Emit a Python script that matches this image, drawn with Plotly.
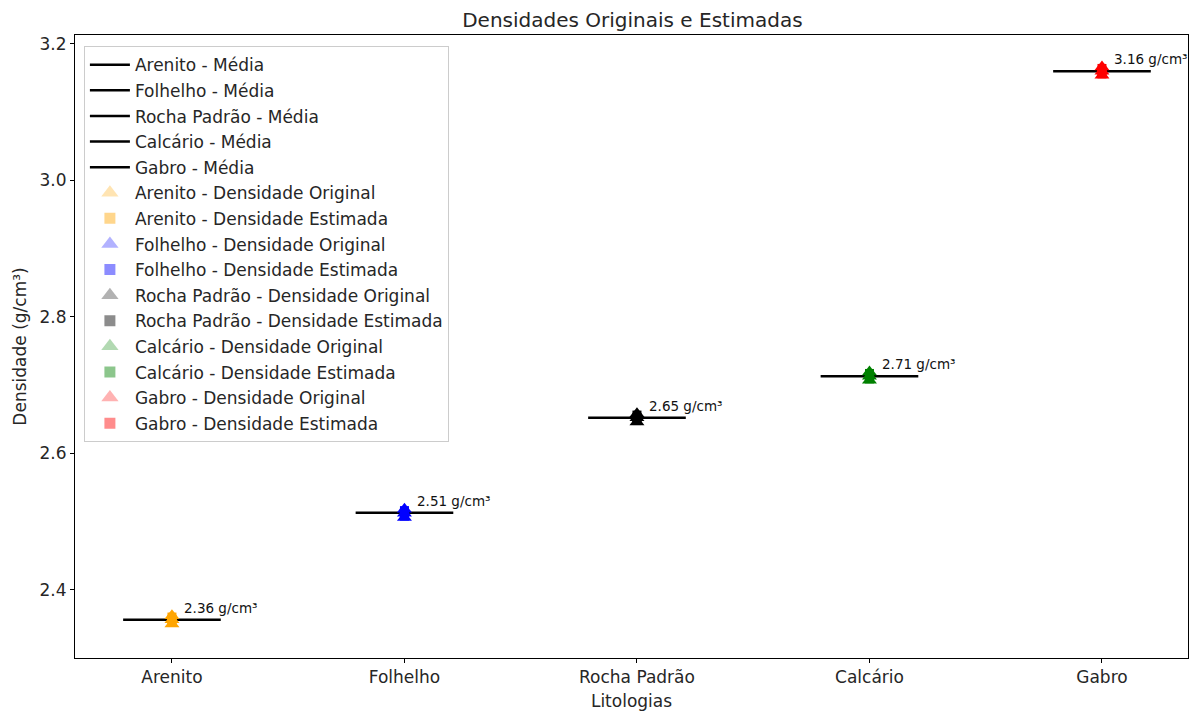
import plotly.graph_objects as go

litologias = ["Arenito", "Folhelho", "Rocha Padrão", "Calcário", "Gabro"]
cores = ["#FFA500", "#0000FF", "#000000", "#008000", "#FF0000"]
cores_leg_tri = ["rgba(255,165,0,0.3)", "rgba(0,0,255,0.3)", "rgba(0,0,0,0.3)", "rgba(0,128,0,0.3)", "rgba(255,0,0,0.3)"]
cores_leg_sq = ["rgba(255,165,0,0.45)", "rgba(0,0,255,0.45)", "rgba(0,0,0,0.45)", "rgba(0,128,0,0.45)", "rgba(255,0,0,0.45)"]

# sample densities (g/cm3)
dens_original = [
    [2.350, 2.356, 2.362],
    [2.506, 2.512, 2.518],
    [2.646, 2.652, 2.658],
    [2.707, 2.713, 2.719],
    [3.154, 3.160, 3.166],
]
dens_estimada = [
    [2.352, 2.356, 2.360],
    [2.508, 2.512, 2.516],
    [2.648, 2.652, 2.656],
    [2.709, 2.713, 2.717],
    [3.156, 3.160, 3.164],
]
medias = [2.356, 2.513, 2.652, 2.713, 3.160]
rotulos = ["2.36 g/cm³", "2.51 g/cm³", "2.65 g/cm³", "2.71 g/cm³", "3.16 g/cm³"]

FONT = "DejaVu Sans"
TXT = "#262626"
fig = go.Figure()

# mean lines
for i, (lit, m) in enumerate(zip(litologias, medias)):
    fig.add_trace(go.Scatter(
        x=[i - 0.21, i + 0.21], y=[m, m], mode="lines",
        line=dict(color="black", width=2.5),
        name=f"{lit} - Média", legendgroup=f"m{i}", showlegend=True,
    ))

# data markers (drawn without legend)
for i, lit in enumerate(litologias):
    fig.add_trace(go.Scatter(
        x=[i] * len(dens_estimada[i]), y=dens_estimada[i], mode="markers",
        marker=dict(symbol="square", size=9, color=cores[i], line=dict(width=0)),
        showlegend=False, hoverinfo="y",
    ))
    fig.add_trace(go.Scatter(
        x=[i] * len(dens_original[i]), y=dens_original[i], mode="markers",
        marker=dict(symbol="triangle-up", size=13, color=cores[i], line=dict(width=0)),
        showlegend=False, hoverinfo="y",
    ))

# legend entries (semi-transparent like the reference legend)
for i, lit in enumerate(litologias):
    fig.add_trace(go.Scatter(
        x=[None], y=[None], mode="markers",
        marker=dict(symbol="triangle-up", size=15, color=cores_leg_tri[i], line=dict(width=0)),
        name=f"{lit} - Densidade Original", legendgroup=f"o{i}",
    ))
    fig.add_trace(go.Scatter(
        x=[None], y=[None], mode="markers",
        marker=dict(symbol="square", size=11, color=cores_leg_sq[i], line=dict(width=0)),
        name=f"{lit} - Densidade Estimada", legendgroup=f"e{i}",
    ))

annotations = []
for i, (m, r) in enumerate(zip(medias, rotulos)):
    annotations.append(dict(
        x=i + 0.045, y=m + 0.003, text=r, showarrow=False,
        xanchor="left", yanchor="bottom", xref="x", yref="y",
        font=dict(family=FONT, size=13.5, color="#111111"),
    ))

fig.update_layout(
    width=1200, height=711,
    paper_bgcolor="white", plot_bgcolor="white",
    margin=dict(l=75, r=12, t=35, b=53),
    font=dict(family=FONT, size=17, color=TXT),
    title=dict(text="Densidades Originais e Estimadas", x=0.527, xanchor="center",
               y=1 - 20 / 711, yanchor="middle", yref="container",
               font=dict(family=FONT, size=20, color=TXT), automargin=False),
    annotations=annotations,
    legend=dict(x=0.008, y=0.982, xanchor="left", yanchor="top",
                bgcolor="rgba(255,255,255,0.8)", bordercolor="#cccccc", borderwidth=1,
                font=dict(family=FONT, size=17, color=TXT),
                tracegroupgap=0.5, itemwidth=40),
    showlegend=True,
)
fig.update_xaxes(
    range=[-0.417, 4.37], tickmode="array", tickvals=list(range(len(litologias))),
    ticktext=litologias, showgrid=False, zeroline=False, automargin=False,
    showline=True, linecolor="black", linewidth=1, mirror=True,
    ticks="outside", ticklen=4, tickcolor="black",
    title=dict(text="Litologias", font=dict(family=FONT, size=17), standoff=8),
    tickfont=dict(family=FONT, size=17),
)
fig.update_yaxes(
    range=[2.300, 3.213], tickmode="array", tickvals=[2.4, 2.6, 2.8, 3.0, 3.2],
    ticktext=["2.4", "2.6", "2.8", "3.0", "3.2"], showgrid=False, zeroline=False,
    automargin=False,
    showline=True, linecolor="black", linewidth=1, mirror=True,
    ticks="outside", ticklen=4, tickcolor="black",
    title=dict(text="Densidade (g/cm³)", font=dict(family=FONT, size=17), standoff=8),
    tickfont=dict(family=FONT, size=17),
)

fig.write_html("out.html", config={"displayModeBar": False},
               post_script="document.body.style.margin='0';")
